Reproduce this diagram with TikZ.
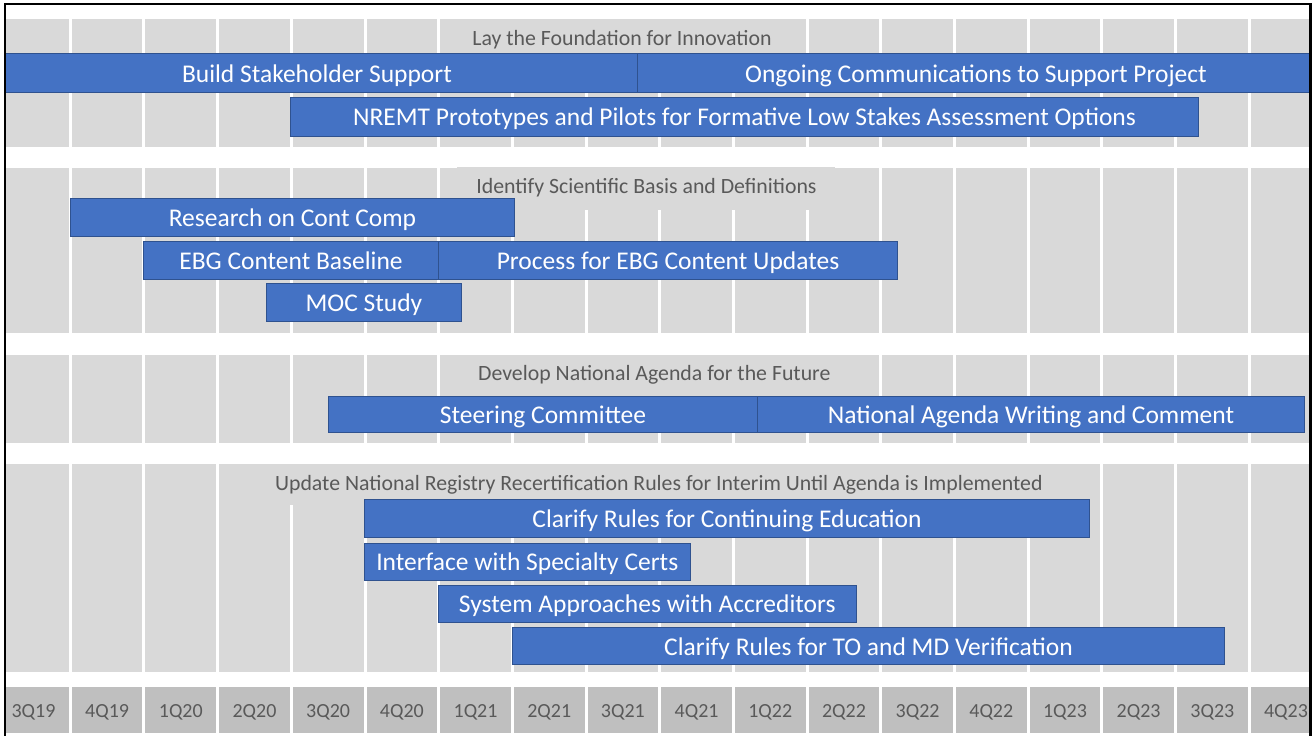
\documentclass[tikz,border=0pt]{standalone}
\usepackage{fontspec}
\setmainfont{Carlito}
\definecolor{bandgray}{HTML}{D9D9D9}
\definecolor{axisgray}{HTML}{BFBFBF}
\definecolor{barblue}{HTML}{4472C4}
\definecolor{barline}{HTML}{2F528F}
\definecolor{titlegray}{HTML}{595959}
\newcommand\ganttbar[6]{%
  \node[ganttbox, minimum width={#4-(#2)}, minimum height={#5-(#3)}] (#1) at (#2,#3) {#6};}
\begin{document}
\begin{tikzpicture}[x=1pt,y=-1pt,
  ganttbox/.style={draw=barline, line width=1pt, fill=barblue, text=white,
    font=\fontsize{25.5}{30}\selectfont, inner sep=0pt, anchor=north west,
    text height=18.4pt, text depth=0pt},
  phasetitle/.style={anchor=base, inner sep=0pt, text=titlegray,
    font=\fontsize{21.8}{26}\selectfont},
  quarterlabel/.style={anchor=base, inner sep=0pt, text=titlegray,
    font=\fontsize{20}{24}\selectfont}]
\useasboundingbox (0,0) rectangle (1312,736);
\fill[white] (0,0) rectangle (1312,736);
\begin{scope}
\clip (5,4) rectangle (1310.5,736);
% column cells
\foreach \j in {0,...,17}{
  \pgfmathsetmacro\xl{70.3+73.68*(\j-1)+1.5}
  \pgfmathsetmacro\xr{70.3+73.68*\j-1.5}
  \fill[bandgray] (\xl,19) rectangle (\xr,147);
  \fill[bandgray] (\xl,168) rectangle (\xr,333.3);
  \fill[bandgray] (\xl,355) rectangle (\xr,442.7);
  \fill[bandgray] (\xl,464) rectangle (\xr,671.7);
  \fill[axisgray] (\xl,686.7) rectangle (\xr,732.7);
}
% title backgrounds
\fill[bandgray] (440,19) rectangle (803,53);
\fill[bandgray] (457,167) rectangle (835,210);
\fill[bandgray] (440,355) rectangle (868,396);
\fill[bandgray] (220,464) rectangle (1099,505);
% phase titles
\node[phasetitle] (t1) at (622,45) {Lay the Foundation for Innovation};
\node[phasetitle] (t2) at (646.5,193) {Identify Scientific Basis and Definitions};
\node[phasetitle] (t3) at (654.3,380.7) {Develop National Agenda for the Future};
\node[phasetitle] (t4) at (658.8,490) {Update National Registry Recertification Rules for Interim Until Agenda is Implemented};
% bars
\ganttbar{build}{-4}{53}{637}{92}{Build Stakeholder Support}
\ganttbar{ongoing}{637}{53}{1314}{92}{Ongoing Communications to Support Project}
\ganttbar{nremt}{290}{97}{1198}{135.5}{NREMT Prototypes and Pilots for Formative Low Stakes Assessment Options}
\ganttbar{research}{70}{198}{514}{236}{Research on Cont Comp}
\ganttbar{ebg}{143}{241}{438}{279}{EBG Content Baseline}
\ganttbar{process}{438}{241}{897}{279}{Process for EBG Content Updates}
\ganttbar{moc}{266}{283}{461}{320.5}{MOC Study}
\ganttbar{steering}{328}{396}{757}{432}{Steering Committee}
\ganttbar{national}{757}{396}{1304}{432}{National Agenda Writing and Comment}
\ganttbar{clarifyce}{364}{498.5}{1089}{537}{Clarify Rules for Continuing Education}
\ganttbar{interface}{364}{542.5}{689.5}{580}{Interface with Specialty Certs}
\ganttbar{system}{438}{584.5}{855.5}{622}{System Approaches with Accreditors}
\ganttbar{tomd}{512}{627}{1224}{664}{Clarify Rules for TO and MD Verification}
% quarter labels
\foreach \lab [count=\k from 0] in {3Q19,4Q19,1Q20,2Q20,3Q20,4Q20,1Q21,2Q21,3Q21,4Q21,1Q22,2Q22,3Q22,4Q22,1Q23,2Q23,3Q23,4Q23}{
  \pgfmathsetmacro\xc{70.3+73.68*(\k-0.5)}
  \node[quarterlabel] (q\k) at (\xc,717.3) {\lab};
}
\end{scope}
% frame
\draw[line width=2.2pt] (5.3,736) -- (5.3,4.3) -- (1310.5,4.3) -- (1310.5,736);
\end{tikzpicture}
\end{document}
